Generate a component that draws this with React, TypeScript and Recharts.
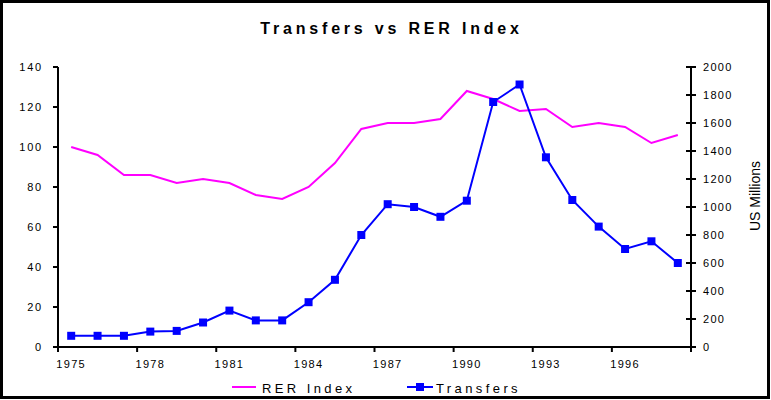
import React from 'react';
import { ComposedChart, Line, XAxis, YAxis, Legend } from 'recharts';

const years = [
  1975, 1976, 1977, 1978, 1979, 1980, 1981, 1982, 1983, 1984, 1985, 1986,
  1987, 1988, 1989, 1990, 1991, 1992, 1993, 1994, 1995, 1996, 1997, 1998,
];
const rerIndex = [
  100, 96, 86, 86, 82, 84, 82, 76, 74, 80, 92, 109,
  112, 112, 114, 128, 124, 118, 119, 110, 112, 110, 102, 106,
];
const transfers = [
  80, 80, 80, 110, 115, 175, 260, 190, 190, 320, 480, 800,
  1020, 1000, 930, 1045, 1750, 1875, 1355, 1050, 860, 700, 755, 600,
];
const leftTicks = [0, 20, 40, 60, 80, 100, 120, 140];
const rightTicks = [0, 200, 400, 600, 800, 1000, 1200, 1400, 1600, 1800, 2000];

const data = years.map((year, i) => ({
  year,
  rer: rerIndex[i],
  transfers: transfers[i],
}));

const FONT = "Arial, 'Liberation Sans', sans-serif";

const XTick = (props: any) => {
  const { x, y, payload } = props;
  const half = payload.offset || 13.2;
  const axisY = y - 9;
  const left = x - half;
  const isLast = payload.value === years[years.length - 3];
  return (
    <g>
      <line x1={left} x2={left} y1={axisY} y2={axisY + 5} stroke="#000" strokeWidth={2} />
      {isLast && (
        <line x1={left + half * 6} x2={left + half * 6} y1={axisY} y2={axisY + 5} stroke="#000" strokeWidth={2} />
      )}
      <text x={x} y={axisY + 21} textAnchor="middle" fontSize={11} fontFamily={FONT} letterSpacing={1.3} fill="#000">
        {payload.value}
      </text>
    </g>
  );
};

const RightTick = (props: any) => {
  const { x, y, payload } = props;
  const axisX = x - 11;
  return (
    <g>
      <line x1={axisX - 5} x2={axisX + 5} y1={y} y2={y} stroke="#000" strokeWidth={2} />
      <text x={axisX + 12} y={y + 4} textAnchor="start" fontSize={11} fontFamily={FONT} letterSpacing={1.3} fill="#000">
        {payload.value}
      </text>
    </g>
  );
};

const SquareDot = (props: any) => {
  const { cx, cy, index } = props;
  return <rect key={index} x={cx - 4} y={cy - 4} width={8} height={8} fill="#0000FF" />;
};

const RightLabel = (props: any) => {
  const vb = props.viewBox;
  const x = vb.x + 69;
  const y = vb.y + vb.height / 2 - 11;
  return (
    <text x={x} y={y} transform={`rotate(-90 ${x} ${y})`} textAnchor="middle" fontSize={14} fontFamily={FONT} fill="#000">
      US Millions
    </text>
  );
};

const LegendContent = () => (
  <svg width={771} height={26}>
    <line x1={232} x2={256} y1={13} y2={13} stroke="#FF00FF" strokeWidth={2} />
    <text x={262} y={19} fontSize={13} fontFamily={FONT} letterSpacing={3.4} fill="#000">RER Index</text>
    <line x1={407} x2={433} y1={13} y2={13} stroke="#0000FF" strokeWidth={2} />
    <rect x={416} y={9} width={8} height={8} fill="#0000FF" />
    <text x={436} y={19} fontSize={13} fontFamily={FONT} letterSpacing={3.4} fill="#000">Transfers</text>
  </svg>
);

export default function App() {
  return (
    <div style={{ position: 'absolute', left: 0, top: 0, width: 771, height: 400, background: '#fff' }}>
      <div
        style={{
          position: 'absolute', left: 6, top: 0, width: 771, textAlign: 'center',
          fontFamily: FONT, fontWeight: 'bold', fontSize: 16, letterSpacing: 3.8, lineHeight: '20px',
          paddingTop: 19,
        }}
      >
        Transfers vs RER Index
      </div>
      <ComposedChart width={771} height={400} data={data} margin={{ top: 67, right: 0, bottom: 23, left: 0 }}>
        <XAxis
          dataKey="year"
          scale="band"
          interval={2}
          tickSize={5}
          tickMargin={4}
          tickLine={false}
          axisLine={{ stroke: '#000', strokeWidth: 2 }}
          tick={<XTick />}
          height={30}
        />
        <YAxis
          yAxisId="left"
          orientation="left"
          width={58}
          domain={[0, 140]}
          ticks={leftTicks}
          interval={0}
          tickSize={5}
          tickMargin={10}
          axisLine={{ stroke: '#000', strokeWidth: 2 }}
          tickLine={{ stroke: '#000', strokeWidth: 2 }}
          tick={{ fill: '#000', fontSize: 11, fontFamily: FONT, letterSpacing: 1.8 }}
        />
        <YAxis
          yAxisId="right"
          orientation="right"
          width={80}
          domain={[0, 2000]}
          ticks={rightTicks}
          interval={0}
          tickSize={5}
          tickMargin={6}
          tickLine={false}
          axisLine={{ stroke: '#000', strokeWidth: 2 }}
          tick={<RightTick />}
          label={<RightLabel />}
        />
        <Legend
          layout="horizontal"
          verticalAlign="middle"
          align="center"
          wrapperStyle={{ top: 374, left: 0, width: 771, height: 26 }}
          content={<LegendContent />}
        />
        <Line
          yAxisId="left"
          dataKey="rer"
          name="RER Index"
          stroke="#FF00FF"
          strokeWidth={2}
          dot={false}
          isAnimationActive={false}
        />
        <Line
          yAxisId="right"
          dataKey="transfers"
          name="Transfers"
          stroke="#0000FF"
          strokeWidth={2}
          dot={SquareDot}
          isAnimationActive={false}
        />
      </ComposedChart>
      <div
        style={{
          position: 'absolute', left: 0, top: 0, width: 770, height: 399,
          border: '3px solid #000', boxSizing: 'border-box', pointerEvents: 'none',
        }}
      />
    </div>
  );
}
